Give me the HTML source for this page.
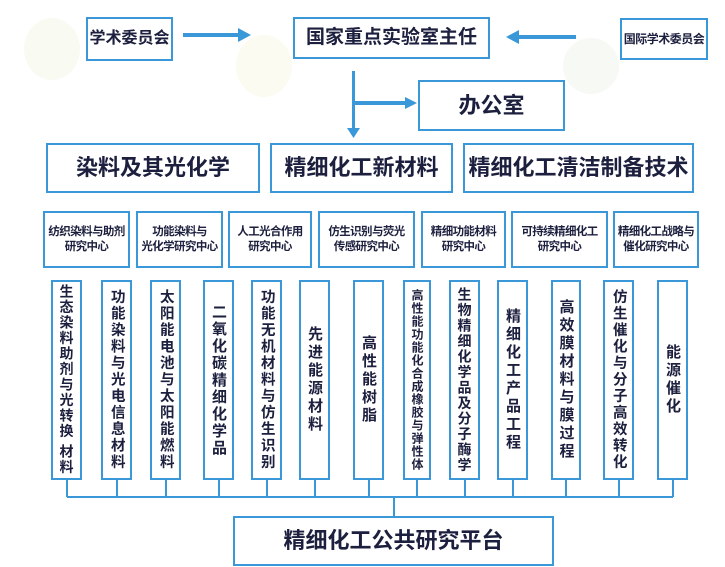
<!DOCTYPE html>
<html><head><meta charset="utf-8"><style>
body{margin:0;width:725px;height:567px;background:#fff;position:relative;overflow:hidden;font-family:"Liberation Sans","Noto Sans CJK SC",sans-serif;color:#1c1f3e;font-weight:bold}
.b{position:absolute;border:2.5px solid #3b98d8;box-sizing:border-box;background:#fff;display:flex;align-items:center;justify-content:center;text-align:center;line-height:1.25;white-space:nowrap}
.s{font-size:11.5px;letter-spacing:-0.6px}
.v{writing-mode:vertical-rl;letter-spacing:1px;font-size:15px;line-height:1;white-space:nowrap}
.l{position:absolute;background:#3b98d8}
.c{position:absolute;border-radius:50%;opacity:.25}
</style></head><body>
<div class="c" style="left:24px;top:18px;width:56px;height:62px;background:#e8eccc"></div>
<div class="c" style="left:236px;top:35px;width:56px;height:62px;background:#eef0c8"></div>
<div class="c" style="left:563px;top:38px;width:56px;height:56px;background:#e0e8d8"></div>

<div class="b" style="left:86px;top:17px;width:87px;height:44px;font-size:16px">学术委员会</div>
<div class="b" style="left:293px;top:17px;width:197px;height:42px;font-size:19px">国家重点实验室主任</div>
<div class="b" style="left:620px;top:18px;width:88px;height:42px;font-size:12px;letter-spacing:-0.5px">国际学术委员会</div>
<div class="b" style="left:418px;top:80px;width:147px;height:51px;font-size:22px">办公室</div>

<div class="l" style="left:183px;top:33px;width:58px;height:4px"></div>
<svg style="position:absolute;left:238px;top:28px" width="14" height="14"><polygon points="0,0 13,7 0,14" fill="#3b98d8"/></svg>
<div class="l" style="left:518px;top:35px;width:58px;height:4px"></div>
<svg style="position:absolute;left:505px;top:30px" width="14" height="14"><polygon points="14,0 1,7 14,14" fill="#3b98d8"/></svg>
<div class="l" style="left:352px;top:71px;width:3px;height:60px"></div>
<svg style="position:absolute;left:347px;top:128px" width="13" height="10"><polygon points="0,0 13,0 6.5,10" fill="#3b98d8"/></svg>
<div class="l" style="left:352px;top:101px;width:54px;height:4px"></div>
<svg style="position:absolute;left:405px;top:97px" width="12" height="12"><polygon points="0,0 12,6 0,12" fill="#3b98d8"/></svg>

<div class="b" style="left:46px;top:143px;width:214px;height:50px;font-size:22px">染料及其光化学</div>
<div class="b" style="left:270px;top:143px;width:183px;height:50px;font-size:22px">精细化工新材料</div>
<div class="b" style="left:463px;top:143px;width:231px;height:50px;font-size:22px">精细化工清洁制备技术</div>

<div class="b s" style="left:43px;top:211px;width:87px;height:57px">纺织染料与助剂<br>研究中心</div>
<div class="b s" style="left:136px;top:211px;width:87px;height:57px">功能染料与<br>光化学研究中心</div>
<div class="b s" style="left:228px;top:211px;width:84px;height:57px">人工光合作用<br>研究中心</div>
<div class="b s" style="left:318px;top:211px;width:97px;height:57px">仿生识别与荧光<br>传感研究中心</div>
<div class="b s" style="left:421px;top:211px;width:85px;height:57px">精细功能材料<br>研究中心</div>
<div class="b s" style="left:511px;top:211px;width:97px;height:57px">可持续精细化工<br>研究中心</div>
<div class="b s" style="left:613px;top:211px;width:86px;height:57px">精细化工战略与<br>催化研究中心</div>

<div class="b" style="left:51px;top:280px;width:31px;height:200px"><span class="v" style="font-size:14px;letter-spacing:1.5px">生态染料助剂与光转换 材料</span></div>
<div class="b" style="left:101px;top:280px;width:31px;height:200px"><span class="v" style="font-size:14.5px;letter-spacing:2px">功能染料与光电信息材料</span></div>
<div class="b" style="left:150px;top:280px;width:31px;height:200px"><span class="v" style="font-size:14.5px;letter-spacing:2px">太阳能电池与太阳能燃料</span></div>
<div class="b" style="left:203px;top:280px;width:31px;height:200px"><span class="v" style="letter-spacing:2px">二氧化碳精细化学品</span></div>
<div class="b" style="left:251px;top:280px;width:31px;height:200px"><span class="v" style="font-size:14.5px;letter-spacing:2px">功能无机材料与仿生识别</span></div>
<div class="b" style="left:299px;top:280px;width:31px;height:200px"><span class="v" style="letter-spacing:3px">先进能源材料</span></div>
<div class="b" style="left:353px;top:280px;width:31px;height:200px"><span class="v" style="letter-spacing:3px">高性能树脂</span></div>
<div class="b" style="left:403px;top:280px;width:28px;height:200px"><span class="v" style="font-size:12px;letter-spacing:1px">高性能功能化合成橡胶与弹性体</span></div>
<div class="b" style="left:449px;top:280px;width:31px;height:200px"><span class="v" style="font-size:14px;letter-spacing:1.5px">生物精细化学品及分子酶学</span></div>
<div class="b" style="left:497px;top:280px;width:31px;height:200px"><span class="v" style="letter-spacing:3px">精细化工产品工程</span></div>
<div class="b" style="left:551px;top:280px;width:30px;height:200px"><span class="v" style="letter-spacing:3px">高效膜材料与膜过程</span></div>
<div class="b" style="left:603px;top:280px;width:31px;height:200px"><span class="v" style="font-size:14.5px;letter-spacing:2px">仿生催化与分子高效转化</span></div>
<div class="b" style="left:657px;top:280px;width:31px;height:200px"><span class="v" style="letter-spacing:3px">能源催化</span></div>

<div class="l" style="left:67px;top:496px;width:606px;height:2px"></div>
<div class="l" style="left:66px;top:480px;width:2px;height:17px"></div>
<div class="l" style="left:116px;top:480px;width:2px;height:17px"></div>
<div class="l" style="left:165px;top:480px;width:2px;height:17px"></div>
<div class="l" style="left:218px;top:480px;width:2px;height:17px"></div>
<div class="l" style="left:266px;top:480px;width:2px;height:17px"></div>
<div class="l" style="left:314px;top:480px;width:2px;height:17px"></div>
<div class="l" style="left:368px;top:480px;width:2px;height:17px"></div>
<div class="l" style="left:416px;top:480px;width:2px;height:17px"></div>
<div class="l" style="left:464px;top:480px;width:2px;height:17px"></div>
<div class="l" style="left:512px;top:480px;width:2px;height:17px"></div>
<div class="l" style="left:565px;top:480px;width:2px;height:17px"></div>
<div class="l" style="left:618px;top:480px;width:2px;height:17px"></div>
<div class="l" style="left:672px;top:480px;width:2px;height:17px"></div>
<div class="l" style="left:393px;top:496px;width:2px;height:21px"></div>

<div class="b" style="left:233px;top:516px;width:321px;height:50px;font-size:22px">精细化工公共研究平台</div>
</body></html>
